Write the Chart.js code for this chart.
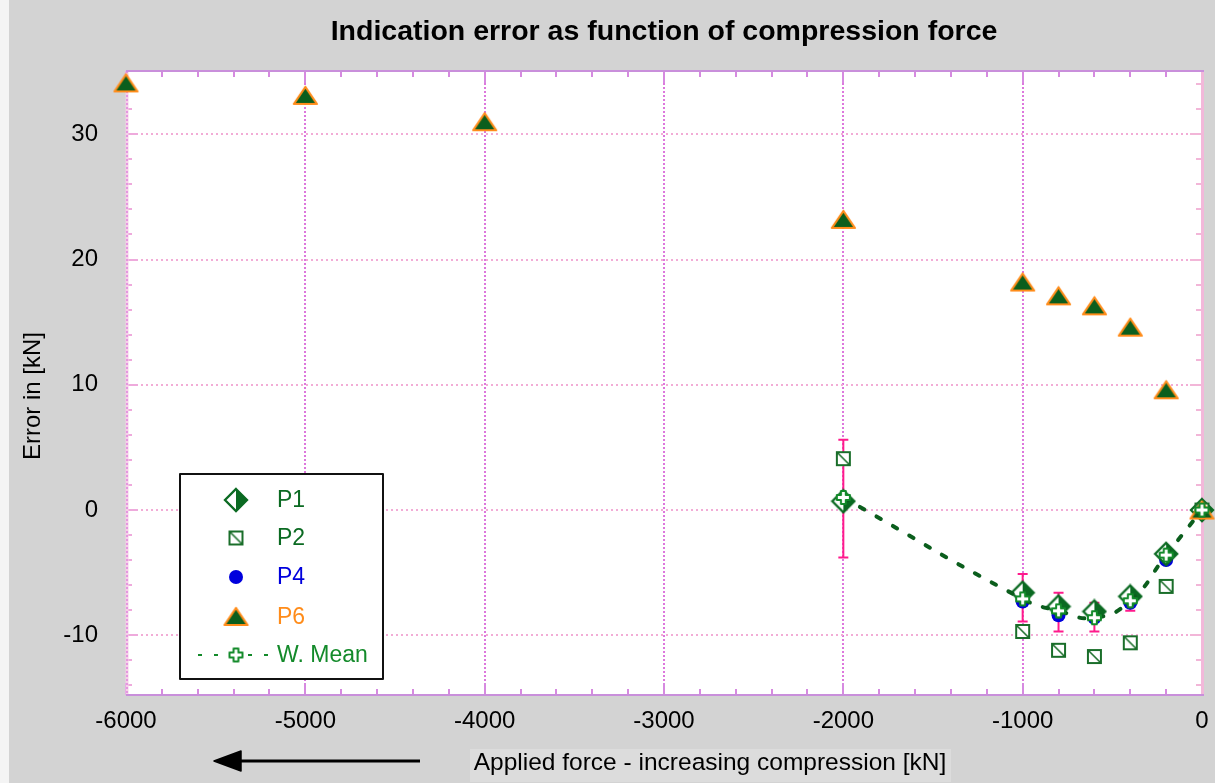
<!DOCTYPE html>
<html>
<head>
<meta charset="utf-8">
<script src="https://cdn.jsdelivr.net/npm/chart.js@4.4.0/dist/chart.umd.min.js"></script>
<style>
  html, body { margin: 0; padding: 0; background: #d3d3d3; }
  #wrap { width: 1215px; height: 783px; position: relative; }
  canvas { display: block; }
</style>
</head>
<body>
<div id="wrap"><canvas id="chart" width="1215" height="783"></canvas></div>
<script>
// Applied force [kN] for each measured point, and indication errors [kN]
const p6Force  = [-6000, -5000, -4000, -2000, -1000, -800, -600, -400, -200, 0];
const p6Error  = [34.1, 33.1, 31.0, 23.2, 18.2, 17.1, 16.3, 14.6, 9.6, 0.0];

const p1Force  = [-2000, -1000, -800, -600, -400, -200, 0];
const p1Error  = [0.7, -6.6, -7.7, -8.1, -6.9, -3.5, 0.0];

const p2Force  = [-2000, -1000, -800, -600, -400, -200, 0];
const p2Error  = [4.1, -9.7, -11.2, -11.7, -10.6, -6.1, 0.0];

const p4Force  = [-1000, -800, -600, -400, -200, 0];
const p4Error  = [-7.3, -8.4, -8.6, -7.4, -4.0, 0.0];

const meanForce = [-2000, -1000, -800, -600, -400, -200, 0];
const meanError = [1.0, -7.1, -8.05, -8.6, -7.25, -3.6, 0.0];
const meanHigh  = [5.6, -5.1, -6.6, -7.4, -6.4, -3.3, 0.0];
const meanLow   = [-3.8, -8.9, -9.7, -9.7, -8.05, -3.9, 0.0];

const xTickValues = [-6000, -5000, -4000, -3000, -2000, -1000, 0];
const yTickValues = [-10, 0, 10, 20, 30];

const seriesNames = ['P1', 'P2', 'P4', 'P6', 'W. Mean'];
const titleText  = 'Indication error as function of compression force';
const xTitleText = 'Applied force - increasing compression [kN]';
const yTitleText = 'Error in [kN]';

const FONT = '"Liberation Sans", Arial, Helvetica, sans-serif';
const DARK_GREEN = '#0b6a22';

// ---- marker images ----
function makeMarker(w, h, paint) {
  const c = document.createElement('canvas');
  c.width = w; c.height = h;
  paint(c.getContext('2d'));
  return c;
}

const diamondMarker = makeMarker(26, 26, g => {
  const path = () => { g.beginPath(); g.moveTo(13, 2); g.lineTo(24, 13); g.lineTo(13, 24); g.lineTo(2, 13); g.closePath(); };
  path(); g.fillStyle = '#fff'; g.fill();
  g.beginPath(); g.moveTo(13, 2); g.lineTo(24, 13); g.lineTo(13, 24); g.closePath();
  g.fillStyle = DARK_GREEN; g.fill();
  path(); g.strokeStyle = DARK_GREEN; g.lineWidth = 2.3; g.stroke();
});

const squareMarker = makeMarker(17, 17, g => {
  g.fillStyle = '#fff'; g.fillRect(2, 2, 13, 13);
  g.strokeStyle = '#1a6e2a'; g.lineWidth = 2; g.strokeRect(2, 2, 13, 13);
  g.lineWidth = 1.6; g.beginPath(); g.moveTo(2.5, 2.5); g.lineTo(14.5, 14.5); g.stroke();
});

const triangleMarker = makeMarker(27, 21, g => {
  g.beginPath(); g.moveTo(13.5, 2); g.lineTo(25, 19); g.lineTo(2, 19); g.closePath();
  g.fillStyle = '#0b5e1d'; g.fill();
  g.lineJoin = 'round'; g.strokeStyle = '#ff8c1a'; g.lineWidth = 2.2; g.stroke();
});

const crossMarker = makeMarker(17, 17, g => {
  const c = 8.5, a = 6.5, t = 2.4;
  g.beginPath();
  g.moveTo(c - t, c - a); g.lineTo(c + t, c - a); g.lineTo(c + t, c - t); g.lineTo(c + a, c - t);
  g.lineTo(c + a, c + t); g.lineTo(c + t, c + t); g.lineTo(c + t, c + a); g.lineTo(c - t, c + a);
  g.lineTo(c - t, c + t); g.lineTo(c - a, c + t); g.lineTo(c - a, c - t); g.lineTo(c - t, c - t);
  g.closePath();
  g.fillStyle = '#fff'; g.fill();
  g.strokeStyle = '#138a2a'; g.lineWidth = 2; g.lineJoin = 'round'; g.stroke();
});

const pts = (xs, ys) => xs.map((x, i) => ({ x: x, y: ys[i] }));

// ---- frame, minor ticks, error bars, titles, legend ----
const decorations = {
  id: 'decorations',
  beforeDraw(chart) {
    const { ctx, chartArea: a } = chart;
    ctx.save();
    ctx.fillStyle = '#d3d3d3';
    ctx.fillRect(0, 0, chart.width, chart.height);
    ctx.fillStyle = '#f4f4f4';
    ctx.fillRect(0, 0, 9, chart.height);
    ctx.fillStyle = '#ffffff';
    ctx.fillRect(a.left, a.top, a.right - a.left, a.bottom - a.top);
    ctx.restore();
  },
  beforeDatasetsDraw(chart) {
    const { ctx, chartArea: a, scales } = chart;
    const xs = scales.x, ys = scales.y;
    ctx.save();
    ctx.lineCap = 'butt';

    // minor / major ticks along the x edges
    for (let v = -6000; v <= 0; v += 200) {
      const px = Math.round(xs.getPixelForValue(v));
      const len = v % 1000 === 0 ? 12 : 6;
      ctx.strokeStyle = '#d68ae0'; ctx.lineWidth = 2;
      ctx.beginPath(); ctx.moveTo(px, a.top); ctx.lineTo(px, a.top + len); ctx.stroke();
      ctx.beginPath(); ctx.moveTo(px, a.bottom); ctx.lineTo(px, a.bottom - len); ctx.stroke();
    }
    // minor / major ticks along the y edges
    for (let v = -14; v <= 34; v += 2) {
      const py = Math.round(ys.getPixelForValue(v));
      const len = v % 10 === 0 ? 12 : 6;
      ctx.strokeStyle = '#eeaadc'; ctx.lineWidth = 2;
      ctx.beginPath(); ctx.moveTo(a.left, py); ctx.lineTo(a.left + len, py); ctx.stroke();
      ctx.strokeStyle = '#f2b6d8';
      ctx.beginPath(); ctx.moveTo(a.right, py); ctx.lineTo(a.right - len, py); ctx.stroke();
    }

    // plot frame
    ctx.strokeStyle = '#f6cfe8'; ctx.lineWidth = 3;
    ctx.beginPath(); ctx.moveTo(a.left + 1, a.top); ctx.lineTo(a.left + 1, a.bottom); ctx.stroke();
    ctx.strokeStyle = '#e496e0'; ctx.lineWidth = 2; ctx.setLineDash([2, 2]);
    ctx.beginPath(); ctx.moveTo(a.left + 1, a.top); ctx.lineTo(a.left + 1, a.bottom); ctx.stroke();
    ctx.setLineDash([]);
    ctx.strokeStyle = '#f2b8da'; ctx.lineWidth = 3;
    ctx.beginPath(); ctx.moveTo(a.right + 0.5, a.top); ctx.lineTo(a.right + 0.5, a.bottom); ctx.stroke();
    ctx.strokeStyle = '#c98fdb'; ctx.lineWidth = 2;
    ctx.beginPath(); ctx.moveTo(a.left, a.top); ctx.lineTo(a.right + 2, a.top); ctx.stroke();
    ctx.beginPath(); ctx.moveTo(a.left, a.bottom); ctx.lineTo(a.right + 2, a.bottom); ctx.stroke();

    // error bars of the weighted mean
    ctx.strokeStyle = '#ff1a8c'; ctx.lineWidth = 2;
    meanForce.forEach((f, i) => {
      if (meanHigh[i] === meanLow[i]) return;
      const px = xs.getPixelForValue(f);
      const yh = ys.getPixelForValue(meanHigh[i]);
      const yl = ys.getPixelForValue(meanLow[i]);
      ctx.beginPath();
      ctx.moveTo(px, yh); ctx.lineTo(px, yl);
      ctx.moveTo(px - 5, yh); ctx.lineTo(px + 5, yh);
      ctx.moveTo(px - 5, yl); ctx.lineTo(px + 5, yl);
      ctx.stroke();
    });
    ctx.restore();
  },
  afterDraw(chart) {
    const { ctx, chartArea: a } = chart;
    ctx.save();

    // chart title
    ctx.fillStyle = '#000';
    ctx.font = 'bold 28.5px ' + FONT;
    ctx.textAlign = 'center'; ctx.textBaseline = 'middle';
    ctx.fillText(titleText, (a.left + a.right) / 2, 32);

    // y axis title
    ctx.font = '24px ' + FONT;
    ctx.save();
    ctx.translate(33, 396);
    ctx.rotate(-Math.PI / 2);
    ctx.fillText(yTitleText, 0, 0);
    ctx.restore();

    // x axis title on its light panel
    ctx.fillStyle = '#dcdcdc';
    ctx.fillRect(470, 749, 481, 33);
    ctx.fillStyle = '#000';
    ctx.font = '24.5px ' + FONT;
    ctx.fillText(xTitleText, 710, 763);

    // direction arrow
    ctx.strokeStyle = '#000'; ctx.lineWidth = 3;
    ctx.beginPath(); ctx.moveTo(420, 761); ctx.lineTo(236, 761); ctx.stroke();
    ctx.beginPath(); ctx.moveTo(214, 761); ctx.lineTo(241, 751); ctx.lineTo(241, 771); ctx.closePath();
    ctx.fillStyle = '#000'; ctx.lineJoin = 'round'; ctx.lineWidth = 1.5; ctx.fill(); ctx.stroke();

    // legend
    const lx = 180, ly = 474, lw = 203, lh = 205;
    ctx.fillStyle = '#fff';
    ctx.fillRect(lx, ly, lw, lh);
    ctx.strokeStyle = '#111'; ctx.lineWidth = 2;
    ctx.strokeRect(lx, ly, lw, lh);
    const rows = [500, 538, 577, 617, 655];
    const colors = [DARK_GREEN, DARK_GREEN, '#0000dd', '#ff8c1a', '#138a2a'];
    const mx = 236;
    ctx.drawImage(diamondMarker, mx - 13, rows[0] - 13);
    ctx.drawImage(squareMarker, mx - 8.5, rows[1] - 8.5);
    ctx.fillStyle = '#0000dd';
    ctx.beginPath(); ctx.arc(mx, rows[2], 7, 0, Math.PI * 2); ctx.fill();
    ctx.drawImage(triangleMarker, mx - 13.5, rows[3] - 11);
    ctx.strokeStyle = '#138a2a'; ctx.lineWidth = 2;
    [198, 214, 248, 264].forEach(dx => {
      ctx.beginPath(); ctx.moveTo(dx, rows[4]); ctx.lineTo(dx + 4, rows[4]); ctx.stroke();
    });
    ctx.drawImage(crossMarker, mx - 8.5, rows[4] - 8.5);
    ctx.font = '23px ' + FONT;
    ctx.textAlign = 'left'; ctx.textBaseline = 'middle';
    seriesNames.forEach((n, i) => {
      ctx.fillStyle = colors[i];
      ctx.fillText(n, 277, rows[i] + 1);
    });
    ctx.restore();
  }
};

new Chart(document.getElementById('chart'), {
  type: 'scatter',
  data: {
    datasets: [
      {
        label: seriesNames[4], data: pts(meanForce, meanError),
        showLine: true, tension: 0.5,
        borderColor: '#0b5e1d', borderWidth: 4, borderDash: [5, 14], borderCapStyle: 'round',
        pointStyle: crossMarker, pointRadius: 8, order: 0, clip: false
      },
      { label: seriesNames[3], data: pts(p6Force, p6Error), pointStyle: triangleMarker, pointRadius: 12, order: 1, clip: false },
      { label: seriesNames[1], data: pts(p2Force, p2Error), pointStyle: squareMarker, pointRadius: 8, order: 2, clip: false },
      { label: seriesNames[0], data: pts(p1Force, p1Error), pointStyle: diamondMarker, pointRadius: 12, order: 3, clip: false },
      {
        label: seriesNames[2], data: pts(p4Force, p4Error), pointStyle: 'circle', pointRadius: 7,
        backgroundColor: '#0000dd', borderColor: '#0000dd', borderWidth: 0, order: 4, clip: false
      }
    ]
  },
  options: {
    responsive: false,
    animation: false,
    devicePixelRatio: 1,
    events: [],
    layout: { padding: { top: 71, right: 12, left: 0, bottom: 0 } },
    plugins: { legend: { display: false }, title: { display: false }, tooltip: { enabled: false } },
    scales: {
      x: {
        type: 'linear', min: -6000, max: 0,
        afterBuildTicks: s => { s.ticks = xTickValues.map(v => ({ value: v })); },
        afterFit: s => { s.height = 88; },
        ticks: {
          color: '#000', font: { family: FONT, size: 24 }, padding: 0, maxRotation: 0, autoSkip: false,
          callback: v => String(v)
        },
        grid: {
          drawTicks: true, tickLength: 12, tickColor: 'rgba(0,0,0,0)',
          color: c => (c.tick && (c.tick.value === -6000 || c.tick.value === 0)) ? 'rgba(0,0,0,0)' : '#dd77dd',
          lineWidth: 2
        },
        border: { display: false, dash: [2, 2] }
      },
      y: {
        type: 'linear', min: -14.77, max: 35.05,
        afterBuildTicks: s => { s.ticks = yTickValues.map(v => ({ value: v })); },
        afterFit: s => { s.width = 126; },
        ticks: { color: '#000', font: { family: FONT, size: 24 }, padding: 28, autoSkip: false, callback: v => String(v) },
        grid: { drawTicks: false, color: '#f2acd6', lineWidth: 2 },
        border: { display: false, dash: [2, 3] }
      }
    }
  },
  plugins: [decorations]
});
</script>
</body>
</html>
